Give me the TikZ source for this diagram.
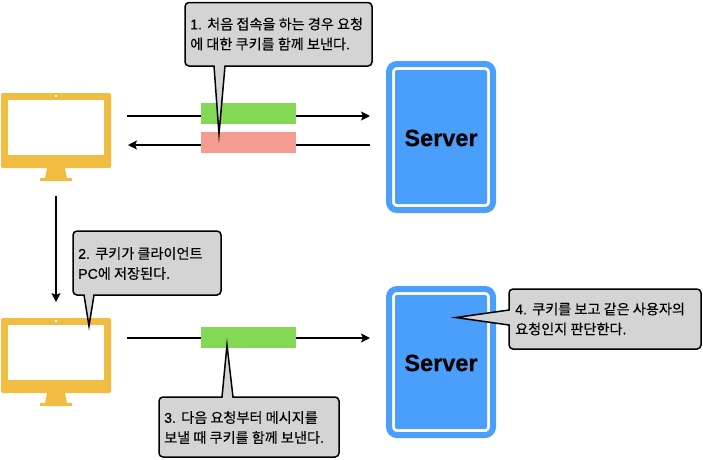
\documentclass[tikz,border=0pt]{standalone}
\usepackage{fontspec}
\setmainfont{Liberation Sans}[FakeBold=0.35]
\newfontfamily\ko{Noto Sans CJK KR}[FakeBold=0.25]
\newfontfamily\srv{Liberation Sans}[FakeBold=0.2]
\usetikzlibrary{arrows.meta}
\definecolor{monitorY}{HTML}{F0BC41}
\definecolor{serverB}{HTML}{4A9FFB}
\definecolor{barG}{HTML}{83D855}
\definecolor{barR}{HTML}{F49B92}
\definecolor{noteG}{HTML}{D4D4D4}
\tikzset{
  flow/.style={line width=1.4pt,-{Stealth[length=9pt,width=9pt,inset=2pt]}},
  barbox/.style={draw=none,minimum width=95pt,minimum height=21pt,inner sep=0pt},
  callout/.style={draw=black,fill=noteG,line width=1.5pt,line join=miter,miter limit=20},
  notetext/.style={anchor=west,align=left,inner sep=0pt,font=\fontsize{14.15}{20}\selectfont},
  servertext/.style={font=\fontsize{23.5}{26}\selectfont\srv\bfseries}
}
\newcommand{\monitorAt}[1]{%
  \begin{scope}[shift={(0,#1)}]
    \fill[monitorY,rounded corners=2pt] (1,93) rectangle (111,168);
    \fill[white] (8,100) rectangle (104,155);
    \fill[white] (55.2,95) rectangle (56.8,96.8);
    \fill[monitorY] (47,168) -- (65,168) -- (67,178) -- (72,178) -- (72,181) -- (40,181) -- (40,178) -- (45,178) -- cycle;
  \end{scope}}
\newcommand{\serverAt}[2]{%
  \begin{scope}[shift={(0,#1)}]
    \draw[serverB,line width=6pt,rounded corners=8pt] (389,64) rectangle (493,210);
    \fill[serverB,rounded corners=2pt] (395,70) rectangle (487,204);
    \node[servertext] (#2) at (441,138) {Server};
  \end{scope}}
\begin{document}
\begin{tikzpicture}[x=1pt,y=-1pt]
\useasboundingbox (0,0) rectangle (703,459);
\monitorAt{0}
\monitorAt{225}
\serverAt{0}{serverA}
\serverAt{225}{serverB}

\coordinate (a1s) at (127,116); \coordinate (a1e) at (370,116);
\coordinate (a2s) at (370,145); \coordinate (a2e) at (128,145);
\coordinate (a3s) at (127,338); \coordinate (a3e) at (370,338);
\coordinate (a4s) at (56,196);  \coordinate (a4e) at (56,302);
\draw[flow] (a1s) -- (a1e);
\draw[flow] (a2s) -- (a2e);
\draw[flow] (a3s) -- (a3e);
\draw[flow] (a4s) -- (a4e);

\node[barbox,fill=barG] (cookieA) at (248.5,113.5) {};
\node[barbox,fill=barR] (cookieB) at (248.5,142.5) {};
\node[barbox,fill=barG] (cookieC) at (248.5,337.5) {};

\draw[callout] (214,66) -- (219,134) -- (225,66) [rounded corners=4pt] -- (372,66) -- (372,2.5) -- (185,2.5) -- (185,66) [sharp corners] -- cycle;
\node[notetext] (note1) at (190,34) {1. {\ko 처음 접속을 하는 경우 요청}\\{\ko 에 대한 쿠키를 함께 보낸다.}};

\draw[callout] (84,295) -- (89,326) -- (94,295) [rounded corners=4pt] -- (221,295) -- (221,231) -- (73,231) -- (73,295) [sharp corners] -- cycle;
\node[notetext] (note2) at (78,263.5) {2. {\ko 쿠키가 클라이언트}\\PC{\ko 에 저장된다.}};

\draw[callout] (222,397) -- (227,345) -- (233,397) [rounded corners=4pt] -- (339,397) -- (339,457) -- (159,457) -- (159,397) [sharp corners] -- cycle;
\node[notetext] (note3) at (164,427.5) {3. {\ko 다음 요청부터 메시지를}\\{\ko 보낼 때 쿠키를 함께 보낸다.}};

\draw[callout] (509,310) -- (456,317.5) -- (509,325) [rounded corners=4pt] -- (509,349) -- (701,349) -- (701,289) -- (509,289) [sharp corners] -- cycle;
\node[notetext] (note4) at (515,319) {4. {\ko 쿠키를 보고 같은 사용자의}\\{\ko 요청인지 판단한다.}};
\end{tikzpicture}
\end{document}
